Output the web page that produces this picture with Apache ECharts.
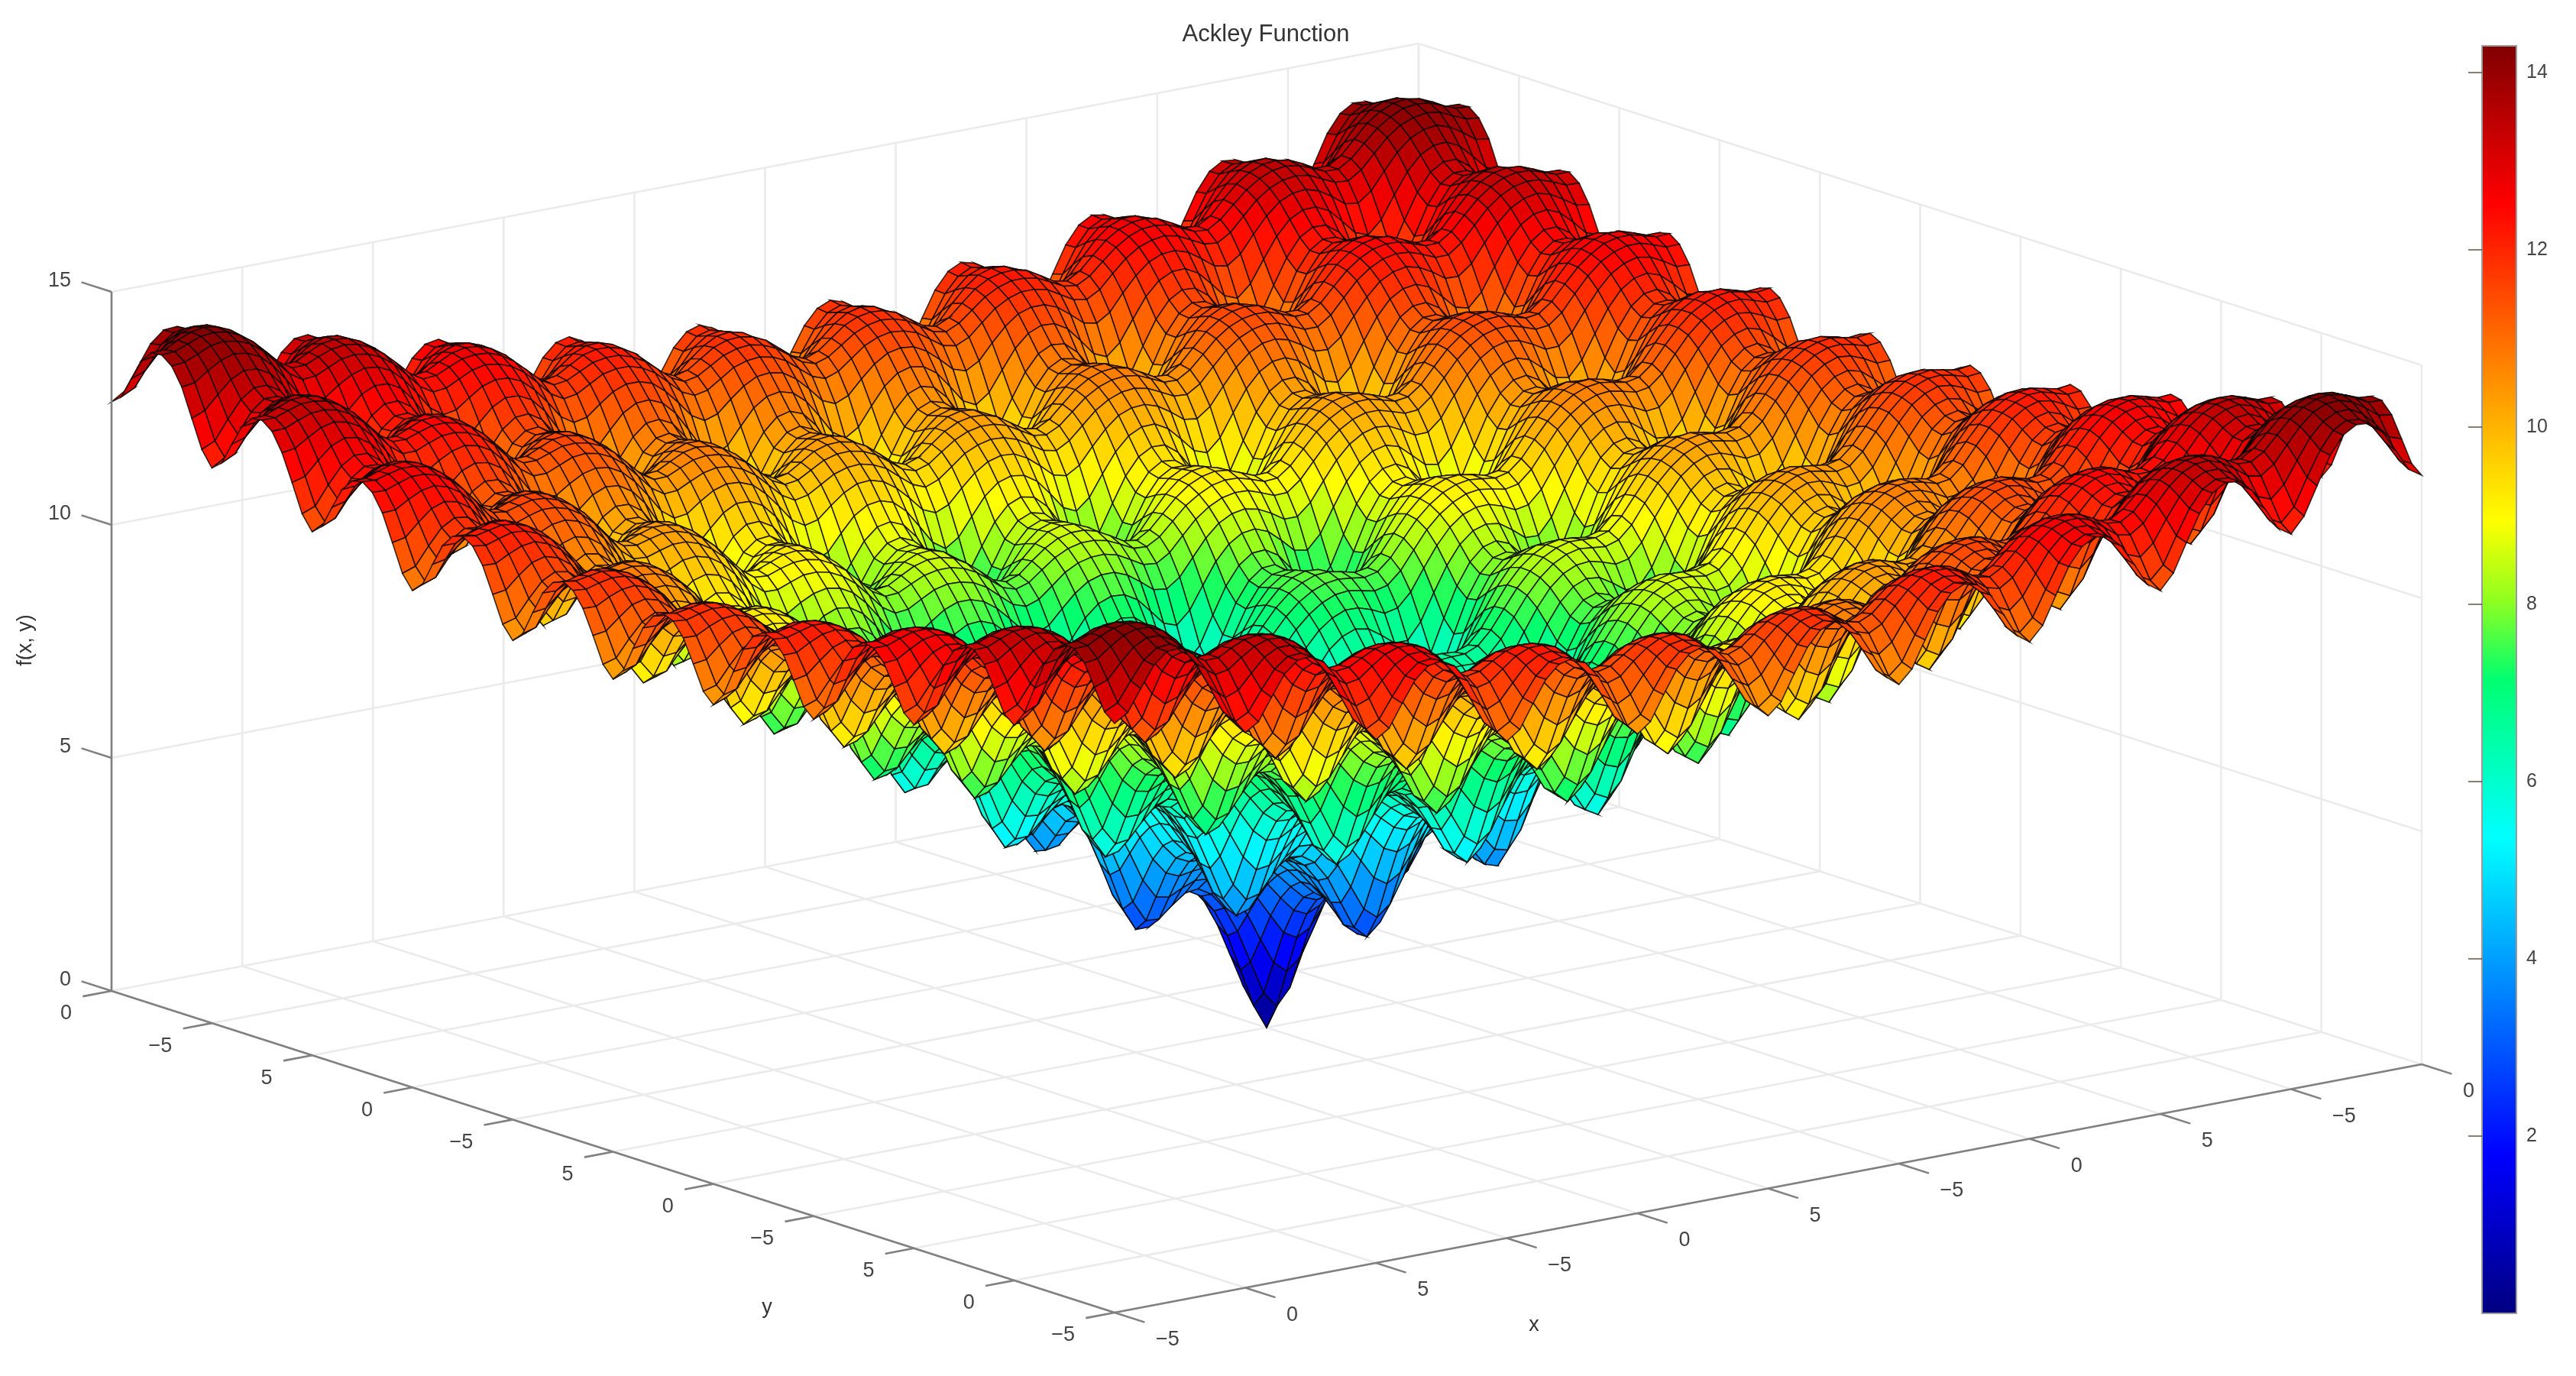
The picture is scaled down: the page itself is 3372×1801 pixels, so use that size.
<!DOCTYPE html>
<html>
<head>
<meta charset="utf-8">
<style>html,body{margin:0;padding:0;background:#fff}#c{width:3372px;height:1801px}</style>
<script src="https://cdn.jsdelivr.net/npm/echarts@6/dist/echarts.min.js"></script>
</head>
<body>
<div id="c"></div>
<script>
// Surface heights estimated for the 101x101 mesh (step 0.1) of the pictured Ackley surface.
// The picture is symmetric, so one triangle is stored: rows[n][k] = height at |x|=n*0.1, |y|=k*0.1.
const rows0to9=[
[0],
[.53,.87],
[1.35,1.59,2.14],
[2.14,2.30,2.72,3.15],
[2.72,2.85,3.17,3.52,3.81],
[3.09,3.20,3.48,3.78,4.04,4.25],
[3.25,3.37,3.65,3.96,4.20,4.39,4.53],
[3.19,3.33,3.67,4.02,4.30,4.49,4.60,4.59],
[2.93,3.12,3.56,3.99,4.31,4.51,4.58,4.51,4.32],
[2.64,2.88,3.42,3.94,4.32,4.52,4.56,4.41,4.10,3.77]];
const rows10to19=[
[2.64,2.90,3.48,4.06,4.45,4.64,4.66,4.48,4.10,3.72,3.63],
[3.13,3.36,3.89,4.41,4.77,4.95,4.97,4.80,4.47,4.11,4.04,4.42],
[3.92,4.10,4.52,4.93,5.22,5.37,5.40,5.29,5.05,4.79,4.75,5.08,5.62],
[4.67,4.80,5.12,5.42,5.65,5.78,5.82,5.75,5.60,5.44,5.45,5.71,6.14,6.56],
[5.21,5.32,5.57,5.82,5.99,6.10,6.14,6.12,6.02,5.91,5.93,6.16,6.53,6.88,7.15],
[5.54,5.64,5.86,6.09,6.25,6.36,6.40,6.37,6.28,6.19,6.22,6.43,6.76,7.09,7.35,7.53],
[5.67,5.78,6.02,6.26,6.43,6.53,6.56,6.52,6.41,6.29,6.30,6.52,6.87,7.21,7.47,7.64,7.75],
[5.58,5.71,6.02,6.31,6.52,6.63,6.65,6.56,6.39,6.19,6.18,6.41,6.82,7.20,7.50,7.68,7.77,7.75],
[5.29,5.47,5.88,6.27,6.53,6.65,6.65,6.50,6.22,5.92,5.84,6.13,6.63,7.11,7.45,7.65,7.72,7.63,7.41],
[4.96,5.19,5.71,6.19,6.52,6.66,6.63,6.41,6.03,5.61,5.49,5.81,6.41,6.98,7.39,7.61,7.65,7.49,7.16,6.79]];
const rows20to29=[
[4.93,5.18,5.74,6.29,6.63,6.78,6.73,6.49,6.04,5.58,5.42,5.77,6.41,7.04,7.46,7.68,7.70,7.51,7.12,6.71,6.59],
[5.39,5.61,6.13,6.61,6.94,7.07,7.03,6.81,6.41,5.99,5.85,6.16,6.76,7.33,7.72,7.93,7.95,7.78,7.44,7.07,6.98,7.33],
[6.14,6.32,6.73,7.11,7.36,7.47,7.45,7.29,6.99,6.68,6.58,6.85,7.33,7.79,8.11,8.29,8.33,8.22,7.98,7.71,7.66,7.96,8.48],
[6.86,6.99,7.29,7.57,7.77,7.86,7.86,7.75,7.55,7.33,7.29,7.49,7.86,8.22,8.49,8.64,8.69,8.63,8.49,8.31,8.31,8.56,8.97,9.36],
[7.38,7.48,7.71,7.95,8.10,8.17,8.18,8.11,7.96,7.80,7.77,7.95,8.26,8.56,8.77,8.91,8.97,8.96,8.86,8.75,8.76,8.98,9.32,9.65,9.89],
[7.68,7.77,7.99,8.20,8.34,8.41,8.41,8.35,8.22,8.08,8.06,8.22,8.50,8.78,8.97,9.11,9.17,9.16,9.08,8.98,9.00,9.21,9.52,9.83,10.06,10.22],
[7.77,7.87,8.11,8.33,8.49,8.56,8.56,8.48,8.33,8.17,8.13,8.30,8.59,8.88,9.10,9.23,9.29,9.26,9.15,9.04,9.05,9.26,9.59,9.91,10.15,10.31,10.38],
[7.66,7.78,8.08,8.36,8.56,8.64,8.62,8.50,8.29,8.05,7.99,8.19,8.55,8.89,9.14,9.28,9.32,9.24,9.09,8.89,8.88,9.11,9.51,9.88,10.15,10.32,10.38,10.32],
[7.33,7.51,7.91,8.29,8.53,8.63,8.60,8.42,8.11,7.78,7.66,7.90,8.36,8.80,9.10,9.25,9.27,9.14,8.87,8.58,8.50,8.78,9.27,9.74,10.07,10.25,10.29,10.18,9.94],
[6.98,7.20,7.71,8.19,8.50,8.62,8.56,8.31,7.90,7.45,7.29,7.57,8.14,8.67,9.04,9.21,9.20,9.00,8.63,8.23,8.10,8.42,9.02,9.58,9.98,10.17,10.19,10.01,9.66,9.27]];
const rows30to39=[
[6.92,7.17,7.72,8.25,8.59,8.71,8.64,8.37,7.90,7.41,7.21,7.52,8.13,8.72,9.10,9.28,9.25,9.03,8.60,8.15,7.99,8.34,8.97,9.59,10.00,10.21,10.22,10.01,9.60,9.17,9.03],
[7.35,7.57,8.08,8.55,8.86,8.98,8.92,8.67,8.25,7.80,7.63,7.91,8.47,9.00,9.36,9.52,9.51,9.30,8.92,8.51,8.38,8.69,9.28,9.84,10.23,10.42,10.43,10.25,9.89,9.50,9.38,9.71],
[8.07,8.26,8.65,9.03,9.27,9.36,9.32,9.14,8.82,8.47,8.34,8.58,9.03,9.45,9.74,9.88,9.89,9.74,9.46,9.16,9.06,9.33,9.81,10.27,10.58,10.75,10.78,10.66,10.41,10.12,10.04,10.33,10.82],
[8.77,8.89,9.19,9.46,9.65,9.73,9.71,9.57,9.35,9.10,9.03,9.20,9.55,9.87,10.11,10.22,10.24,10.15,9.97,9.76,9.72,9.93,10.31,10.66,10.92,11.07,11.11,11.04,10.88,10.69,10.67,10.89,11.28,11.64],
[9.25,9.36,9.58,9.81,9.94,10.01,9.99,9.90,9.73,9.56,9.50,9.66,9.93,10.20,10.38,10.49,10.52,10.46,10.33,10.19,10.17,10.35,10.66,10.96,11.17,11.30,11.36,11.33,11.21,11.09,11.09,11.29,11.61,11.92,12.14],
[9.53,9.62,9.83,10.03,10.16,10.22,10.21,10.13,9.97,9.81,9.77,9.91,10.16,10.41,10.58,10.68,10.71,10.67,10.55,10.42,10.41,10.58,10.86,11.14,11.34,11.46,11.51,11.50,11.40,11.30,11.30,11.48,11.78,12.07,12.28,12.42],
[9.60,9.70,9.93,10.15,10.29,10.35,10.34,10.25,10.07,9.89,9.83,9.98,10.25,10.51,10.69,10.79,10.82,10.76,10.62,10.47,10.45,10.63,10.93,11.22,11.42,11.55,11.60,11.57,11.45,11.32,11.31,11.50,11.82,12.13,12.34,12.48,12.54],
[9.46,9.58,9.88,10.15,10.34,10.41,10.38,10.24,10.01,9.76,9.68,9.84,10.19,10.50,10.72,10.83,10.84,10.73,10.54,10.33,10.28,10.47,10.84,11.18,11.43,11.57,11.60,11.52,11.34,11.14,11.11,11.33,11.71,12.06,12.32,12.47,12.52,12.44],
[9.10,9.29,9.68,10.05,10.29,10.38,10.33,10.14,9.81,9.46,9.32,9.54,9.98,10.39,10.66,10.79,10.78,10.62,10.33,10.01,9.90,10.15,10.61,11.05,11.35,11.50,11.51,11.37,11.10,10.80,10.70,10.97,11.45,11.91,12.22,12.38,12.40,12.27,12.01],
[8.73,8.95,9.46,9.93,10.23,10.34,10.27,10.01,9.58,9.11,8.93,9.19,9.74,10.25,10.59,10.73,10.70,10.47,10.07,9.64,9.49,9.78,10.35,10.89,11.25,11.42,11.41,11.20,10.83,10.41,10.28,10.58,11.17,11.72,12.10,12.28,12.28,12.08,11.71,11.30]];
const rows40to50=[
[8.64,8.89,9.44,9.97,10.29,10.41,10.33,10.05,9.55,9.05,8.84,9.13,9.71,10.28,10.64,10.79,10.74,10.49,10.03,9.56,9.38,9.70,10.30,10.90,11.28,11.46,11.43,11.21,10.77,10.31,10.14,10.47,11.10,11.71,12.10,12.29,12.28,12.06,11.62,11.17,11.01],
[9.05,9.27,9.78,10.25,10.55,10.66,10.59,10.32,9.89,9.42,9.24,9.50,10.04,10.54,10.88,11.02,10.99,10.75,10.36,9.92,9.76,10.05,10.62,11.14,11.50,11.67,11.65,11.44,11.06,10.64,10.50,10.81,11.39,11.93,12.31,12.48,12.47,12.27,11.90,11.48,11.35,11.66],
[9.75,9.93,10.33,10.70,10.93,11.01,10.96,10.77,10.43,10.07,9.93,10.14,10.57,10.98,11.25,11.37,11.35,11.19,10.88,10.55,10.43,10.68,11.13,11.56,11.85,11.99,12.00,11.85,11.57,11.26,11.15,11.41,11.88,12.32,12.63,12.78,12.79,12.66,12.38,12.08,11.98,12.25,12.73],
[10.42,10.54,10.84,11.11,11.29,11.35,11.32,11.17,10.94,10.68,10.59,10.75,11.08,11.38,11.60,11.69,11.69,11.58,11.37,11.14,11.08,11.26,11.62,11.94,12.18,12.30,12.32,12.23,12.04,11.83,11.78,11.98,12.35,12.69,12.94,13.07,13.10,13.01,12.84,12.63,12.59,12.80,13.17,13.52],
[10.89,10.99,11.21,11.43,11.56,11.62,11.59,11.50,11.31,11.12,11.06,11.19,11.45,11.70,11.86,11.95,11.95,11.89,11.73,11.57,11.52,11.68,11.97,12.24,12.43,12.53,12.57,12.51,12.37,12.23,12.20,12.37,12.67,12.96,13.16,13.28,13.32,13.28,13.15,13.02,13.00,13.18,13.48,13.77,13.98],
[11.14,11.23,11.43,11.63,11.75,11.81,11.78,11.69,11.52,11.35,11.29,11.42,11.65,11.88,12.03,12.12,12.12,12.07,11.93,11.79,11.75,11.90,12.16,12.41,12.59,12.70,12.72,12.68,12.56,12.43,12.41,12.58,12.85,13.11,13.30,13.42,13.46,13.42,13.31,13.19,13.18,13.35,13.63,13.90,14.09,14.22],
[11.18,11.29,11.51,11.73,11.86,11.91,11.89,11.79,11.60,11.41,11.34,11.47,11.73,11.98,12.14,12.22,12.23,12.16,12.00,11.83,11.78,11.94,12.22,12.49,12.67,12.77,12.80,12.74,12.60,12.45,12.42,12.59,12.89,13.17,13.36,13.48,13.51,13.47,13.34,13.19,13.18,13.35,13.65,13.94,14.14,14.26,14.30],
[11.02,11.14,11.44,11.70,11.88,11.95,11.91,11.76,11.53,11.26,11.17,11.32,11.65,11.94,12.16,12.25,12.24,12.12,11.90,11.67,11.60,11.78,12.12,12.44,12.67,12.78,12.79,12.69,12.49,12.27,12.22,12.41,12.77,13.10,13.34,13.47,13.49,13.39,13.21,13.00,12.95,13.15,13.51,13.85,14.10,14.23,14.25,14.16],
[10.65,10.83,11.22,11.59,11.82,11.90,11.85,11.65,11.31,10.94,10.79,11.00,11.43,11.82,12.08,12.19,12.16,11.99,11.67,11.33,11.20,11.44,11.88,12.30,12.58,12.71,12.70,12.54,12.25,11.92,11.81,12.06,12.52,12.94,13.24,13.38,13.38,13.23,12.94,12.63,12.52,12.78,13.24,13.68,13.97,14.12,14.13,13.98,13.70],
[10.25,10.47,10.98,11.44,11.74,11.85,11.77,11.50,11.06,10.58,10.39,10.64,11.17,11.67,11.99,12.13,12.08,11.83,11.42,10.96,10.79,11.06,11.61,12.13,12.48,12.63,12.60,12.37,11.97,11.54,11.38,11.66,12.23,12.76,13.12,13.28,13.26,13.04,12.65,12.23,12.08,12.37,12.95,13.48,13.85,14.01,13.98,13.77,13.38,12.96],
[10.14,10.39,10.94,11.45,11.77,11.89,11.80,11.51,11.02,10.50,10.28,10.56,11.13,11.68,12.03,12.17,12.10,11.83,11.36,10.86,10.66,10.96,11.55,12.12,12.49,12.65,12.60,12.35,11.90,11.42,11.23,11.55,12.15,12.72,13.11,13.28,13.25,13.01,12.56,12.09,11.91,12.24,12.84,13.44,13.82,13.99,13.97,13.73,13.28,12.82,12.64]];
const heightRows=[].concat(rows0to9,rows10to19,rows20to29,rows30to39,rows40to50);

const xyTicks=[-5,-4,-3,-2,-1,0,1,2,3,4,5];
const xyTickLabels=['\u22125','0','5','\u22125','0','5','\u22125','0','5','\u22125','0'];
const zTicks=[0,5,10,15];
const zTickLabels=['0','5','10','15'];
// Colour bar, bottom to top, equally spaced between colorMin and colorMax.
const colormapStops=['#000080','#0000c0','#0000ff','#0040ff','#0080ff','#00c0ff','#00ffff','#00ffb8','#00ff70','#90ff20','#ffff00','#ffc000','#ff8000','#ff4000','#ff0000','#c00000','#800000'];
const colorMin=0, colorMax=14.3;

const FONT='"Liberation Sans", Arial, sans-serif';
const NODES=101, MID=50, STEP=0.1;
const nodeValue=i=>-5+i*STEP;
const height=(ix,iy)=>{const a=Math.abs(ix-MID),b=Math.abs(iy-MID);return a>=b?heightRows[a][b]:heightRows[b][a];};

// Orthographic view of the box, expressed in the units of the hidden projection axes.
function project(x,y,z){
  const a=(x+5)/10,b=(y+5)/10;
  return [1459+a*1711-b*1313, 1718-a*325-b*421-z*61];
}

// Mesh cells, far corner first so nearer cells paint over farther ones.
const cellData=[];
for(let ix=NODES-2;ix>=0;ix--){
  for(let iy=NODES-2;iy>=0;iy--){
    const m=(height(ix,iy)+height(ix+1,iy)+height(ix,iy+1)+height(ix+1,iy+1))/4;
    cellData.push([ix,iy,m]);
  }
}
function renderCell(params,api){
  const ix=api.value(0),iy=api.value(1);
  const corner=(i,j)=>api.coord(project(nodeValue(i),nodeValue(j),height(i,j)));
  return {type:'polygon',shape:{points:[corner(ix,iy),corner(ix+1,iy),corner(ix+1,iy+1),corner(ix,iy+1)]},
    style:{fill:api.visual('color'),stroke:'rgba(10,5,0,0.8)',lineWidth:1.6}};
}

// Box lines: [x1,y1,z1,x2,y2,z2]
const gridSegs=[], axisSegs=[];
xyTicks.forEach(t=>{
  gridSegs.push([t,-5,0,t,5,0],[-5,t,0,5,t,0]);
  gridSegs.push([t,5,0,t,5,15],[5,t,0,5,t,15]);
  axisSegs.push([-5,t,0,-5.22,t,0],[t,-5,0,t,-5.3,0]);
});
zTicks.forEach(z=>{
  if(z>0) gridSegs.push([-5,5,z,5,5,z],[5,5,z,5,-5,z]);
  axisSegs.push([-5,5,z,-5,5.3,z]);
});
axisSegs.push([-5,5,0,-5,-5,0],[-5,-5,0,5,-5,0],[-5,5,0,-5,5,15]);

const segRender=(stroke,w)=>(params,api)=>{
  const p=api.coord(project(api.value(0),api.value(1),api.value(2)));
  const q=api.coord(project(api.value(3),api.value(4),api.value(5)));
  return {type:'line',shape:{x1:p[0],y1:p[1],x2:q[0],y2:q[1]},style:{stroke:stroke,lineWidth:w,fill:null}};
};

// Tick labels anchored on the box edges.
const labelTexts=[],labelData=[],labelKinds=[];
xyTicks.forEach((t,i)=>{
  labelData.push([-5,t,0]);labelTexts.push(xyTickLabels[i]);labelKinds.push('y');
  labelData.push([t,-5,0]);labelTexts.push(xyTickLabels[i]);labelKinds.push('x');
});
zTicks.forEach((z,i)=>{labelData.push([-5,5,z]);labelTexts.push(zTickLabels[i]);labelKinds.push('z');});
function renderLabel(params,api){
  const p=api.coord(project(api.value(0),api.value(1),api.value(2)));
  const k=labelKinds[params.dataIndex];
  const off=k==='y'?[-52,30]:k==='x'?[54,36]:[-53,-14];
  return {type:'text',style:{text:labelTexts[params.dataIndex],x:p[0]+off[0],y:p[1]+off[1],
    fill:'#444',font:'27px '+FONT,align:k==='x'?'left':'right',verticalAlign:'middle'}};
}
function renderBar(params,api){
  const a=api.coord([0,colorMax]),b=api.coord([1,colorMin]);
  const n=colormapStops.length-1;
  return {type:'rect',shape:{x:a[0],y:a[1],width:b[0]-a[0],height:b[1]-a[1]},
    style:{fill:new echarts.graphic.LinearGradient(0,1,0,0,colormapStops.map((c,i)=>({offset:i/n,color:c}))),
      stroke:'#9a9a9a',lineWidth:2}};
}

const chart=echarts.init(document.getElementById('c'),null,{renderer:'canvas'});
const hiddenAxis={show:false,type:'value',min:0,scale:false,splitLine:{show:false}};
chart.setOption({
  animation:false,
  backgroundColor:'#fff',
  title:{text:'Ackley Function',left:1652,top:25,textAlign:'center',
    textStyle:{fontFamily:FONT,fontSize:31,fontWeight:'normal',color:'#333'}},
  grid:[
    {left:0,top:0,width:3372,height:1801,show:false},
    {left:3249,top:60,width:45,height:1659,show:false}
  ],
  xAxis:[
    Object.assign({},hiddenAxis,{gridIndex:0,max:3372}),
    Object.assign({},hiddenAxis,{gridIndex:1,max:1})
  ],
  yAxis:[
    Object.assign({},hiddenAxis,{gridIndex:0,max:1801,inverse:true}),
    {gridIndex:1,type:'value',position:'right',min:colorMin,max:colorMax,interval:2,z:6,
      splitLine:{show:false},axisLine:{show:false},
      axisTick:{show:true,inside:true,length:18,lineStyle:{color:'rgba(60,40,20,0.6)',width:2}},
      axisLabel:{margin:13,color:'#444',fontFamily:FONT,fontSize:25,showMinLabel:false,showMaxLabel:false,
        formatter:v=>(v>0&&v%2===0)?String(v):''}}
  ],
  visualMap:{show:false,type:'continuous',seriesIndex:1,dimension:2,min:colorMin,max:colorMax,inRange:{color:colormapStops}},
  graphic:[
    {type:'text',x:34,y:838,rotation:Math.PI/2,style:{text:'f(x, y)',fill:'#333',font:'27px '+FONT,align:'center',verticalAlign:'middle'}},
    {type:'text',x:1004,y:1712,style:{text:'y',fill:'#333',font:'27px '+FONT,align:'center',verticalAlign:'middle'}},
    {type:'text',x:2008,y:1735,style:{text:'x',fill:'#333',font:'27px '+FONT,align:'center',verticalAlign:'middle'}}
  ],
  series:[
    {type:'custom',xAxisIndex:0,yAxisIndex:0,coordinateSystem:'cartesian2d',silent:true,clip:false,z:1,
      data:gridSegs,renderItem:segRender('#ebebeb',2.6)},
    {type:'custom',name:'f(x, y)',xAxisIndex:0,yAxisIndex:0,coordinateSystem:'cartesian2d',silent:true,clip:false,z:2,
      progressive:0,data:cellData,renderItem:renderCell},
    {type:'custom',xAxisIndex:0,yAxisIndex:0,coordinateSystem:'cartesian2d',silent:true,clip:false,z:3,
      data:axisSegs,renderItem:segRender('#808080',2.6)},
    {type:'custom',xAxisIndex:0,yAxisIndex:0,coordinateSystem:'cartesian2d',silent:true,clip:false,z:4,
      data:labelData,renderItem:renderLabel},
    {type:'custom',xAxisIndex:1,yAxisIndex:1,coordinateSystem:'cartesian2d',silent:true,clip:false,z:4,
      data:[[0,0]],renderItem:renderBar}
  ]
});
</script>
</body>
</html>
